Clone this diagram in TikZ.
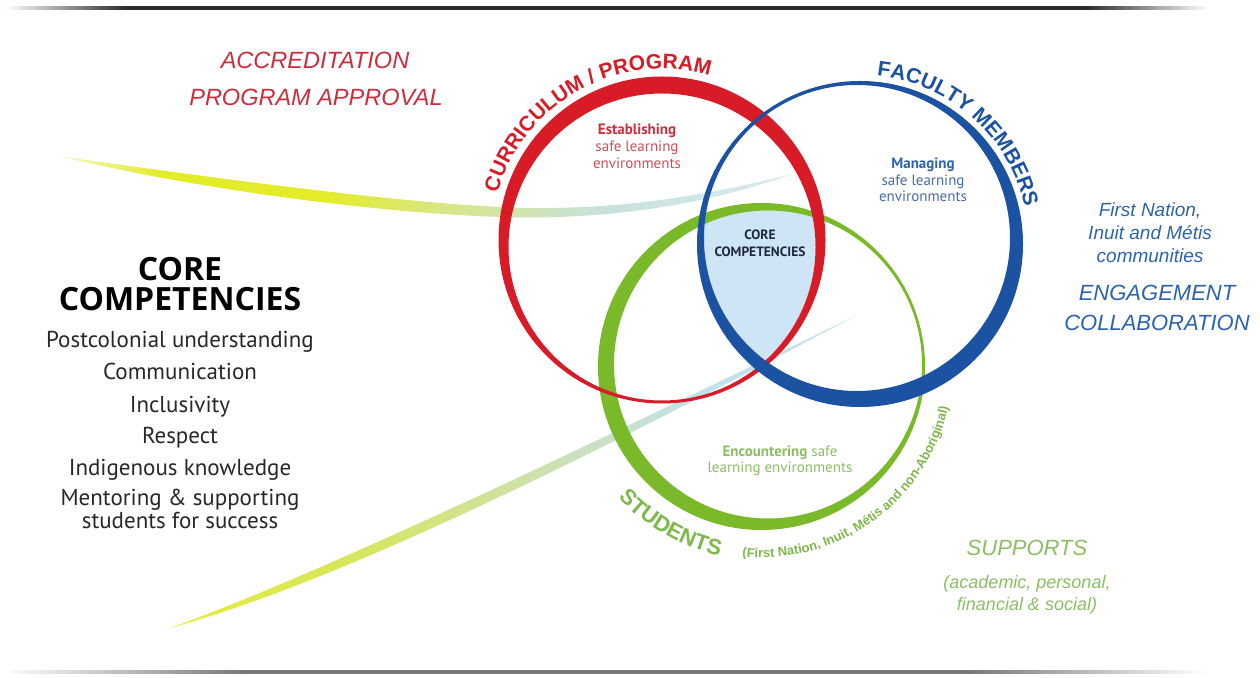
\documentclass[tikz,border=0pt]{standalone}
\usepackage{fontspec}
\setmainfont{PT Sans}
\newfontfamily\hum{PT Sans}
\newfontfamily\opn{Open Sans}
\newfontfamily\ari{Liberation Sans}
\usetikzlibrary{decorations.text}
\definecolor{cred}{RGB}{215,28,40}
\definecolor{cblue}{RGB}{28,82,162}
\definecolor{cgreen}{RGB}{122,186,42}
\definecolor{corefill}{RGB}{205,229,245}
\definecolor{tred}{RGB}{205,45,60}
\definecolor{tredl}{RGB}{205,80,90}
\definecolor{tblue}{RGB}{45,100,175}
\definecolor{tbluel}{RGB}{70,110,170}
\definecolor{tgreen}{RGB}{125,185,75}
\definecolor{tgreenl}{RGB}{140,190,100}
\definecolor{tdark}{RGB}{40,40,40}
\definecolor{tnavy}{RGB}{30,40,60}
\definecolor{sA0}{RGB}{245,248,210}
\definecolor{sA1}{RGB}{228,235,40}
\definecolor{sA2}{RGB}{215,230,140}
\definecolor{sA3}{RGB}{200,225,220}
\definecolor{sA4}{RGB}{215,235,240}
\definecolor{sB0}{RGB}{230,238,60}
\definecolor{sB1}{RGB}{215,230,90}
\definecolor{sB2}{RGB}{205,225,175}
\definecolor{sB3}{RGB}{195,225,232}
\definecolor{lnA}{RGB}{45,45,45}
\definecolor{lnB}{RGB}{120,120,120}
\pgfdeclarehorizontalshading{swupper}{100bp}{color(0bp)=(sA0); color(25bp)=(sA0); color(32bp)=(sA1); color(43bp)=(sA1); color(52bp)=(sA2); color(62bp)=(sA3); color(75bp)=(sA4); color(100bp)=(sA4)}
\pgfdeclarehorizontalshading{swlower}{100bp}{color(0bp)=(sB0); color(25bp)=(sB0); color(38bp)=(sB1); color(52bp)=(sB2); color(63bp)=(sB3); color(75bp)=(sB3); color(100bp)=(sB3)}
\pgfdeclarehorizontalshading{lineA}{100bp}{color(0bp)=(white); color(25bp)=(white); color(30bp)=(lnA); color(70bp)=(lnA); color(75bp)=(white); color(100bp)=(white)}
\pgfdeclarehorizontalshading{lineB}{100bp}{color(0bp)=(white); color(25bp)=(white); color(35bp)=(lnB); color(65bp)=(lnB); color(75bp)=(white); color(100bp)=(white)}
\tikzset{
  listtxt/.style={font=\hum\fontsize{23}{26}\selectfont, text=tdark, anchor=base, inner sep=0pt},
  headtxt/.style={font=\opn\bfseries\fontsize{32}{34}\selectfont, text=black, anchor=base, inner sep=0pt},
  redital/.style={font=\ari\itshape\fontsize{23.5}{26}\selectfont, text=tred, anchor=base, inner sep=0pt},
  blueital/.style={font=\ari\itshape\fontsize{19}{22}\selectfont, text=tblue, anchor=base, inner sep=0pt},
  bluebig/.style={font=\ari\itshape\fontsize{22}{25}\selectfont, text=tblue, anchor=base, inner sep=0pt},
  greenbig/.style={font=\ari\itshape\fontsize{22}{25}\selectfont, text=tgreenl, anchor=base, inner sep=0pt},
  greenital/.style={font=\ari\itshape\fontsize{18}{21}\selectfont, text=tgreenl, anchor=base, inner sep=0pt},
  innertxt/.style={font=\hum\fontsize{15}{17}\selectfont, anchor=base, inner sep=0pt},
  coretxt/.style={font=\hum\bfseries\fontsize{13.5}{15}\selectfont, text=tnavy, anchor=base, inner sep=0pt}
}
\begin{document}
\begin{tikzpicture}[x=1pt,y=1pt]
\useasboundingbox (0,0) rectangle (1260,677);
\fill[white] (0,0) rectangle (1260,677);
% frame lines
\shade[shading=lineA] (5,667.5) rectangle (1208,670.5);
\shade[shading=lineB] (5,3.5) rectangle (1208,6.5);
% swooshes
\shade[shading=swupper] (58,521) .. controls (200,501) and (380,476) .. (500,470) .. controls (620,464) and (720,485) .. (792,503)
   .. controls (720,477) and (620,456) .. (500,460) .. controls (380,464) and (200,487) .. (58,521) -- cycle;
\shade[shading=swlower] (170,49) .. controls (330,107) and (600,237) .. (855,361)
   .. controls (600,225) and (340,95) .. (170,49) -- cycle;
% core region
\begin{scope}
  \clip (662,430) circle (153.5);
  \clip (857,439) circle (153);
  \fill[corefill] (768,312.5) circle (154);
\end{scope}
% rings
\fill[cgreen, even odd rule] (761.5,310.5) circle (163.5) (768,312.5) circle (154);
\fill[cred, even odd rule] (662,437) circle (163.5) (662,430) circle (153.5);
\fill[cblue, even odd rule] (860,433) circle (163) (857,439) circle (153);
% curved labels
\path[decorate, decoration={text along path, text align=center,
   text={|\ari\bfseries\fontsize{21}{21}\selectfont\color{cred}|CURRICULUM / PROGRAM}}]
   (662,437) ++(176:171) arc[start angle=176, end angle=62, radius=171];
\path[decorate, decoration={text along path, text align=center,
   text={|\ari\bfseries\fontsize{21}{21}\selectfont\color{cblue}|FACULTY MEMBERS}}]
   (860,433) ++(100:169) arc[start angle=100, end angle=-3, radius=169];
\path[decorate, decoration={text along path, text align=center,
   text={|\ari\bfseries\fontsize{22}{22}\selectfont\color{tgreen}|STUDENTS}}]
   (761.5,310.5) ++(214:194) arc[start angle=214, end angle=266, radius=194];
\path[decorate, decoration={text along path, text align=center,
   text={|\ari\bfseries\fontsize{13}{13}\selectfont\color{tgreen}|(First Nation, Inuit, Métis and non-Aboriginal)}}]
   (761.5,310.5) ++(248:191) arc[start angle=248, end angle=364, radius=191];
% inner texts
\node[innertxt, text=tred] (est1) at (637,542) {\bfseries Establishing};
\node[innertxt, text=tredl] (est2) at (637,525) {safe learning};
\node[innertxt, text=tredl] (est3) at (637,508) {environments};
\node[innertxt, text=tblue] (man1) at (923,508) {\bfseries Managing};
\node[innertxt, text=tbluel] (man2) at (923,491) {safe learning};
\node[innertxt, text=tbluel] (man3) at (923,475) {environments};
\node[innertxt, text=tgreenl] (enc1) at (780,220) {{\bfseries Encountering} safe};
\node[innertxt, text=tgreenl] (enc2) at (780,204) {learning environments};
\node[coretxt] (core1) at (760,437) {CORE};
\node[coretxt] (core2) at (760,420) {COMPETENCIES};
% left panel
\node[redital] (acc1) at (315,608) {ACCREDITATION};
\node[redital] (acc2) at (316,571) {PROGRAM APPROVAL};
\node[headtxt] (h1) at (180,396) {CORE};
\node[headtxt] (h2) at (180,366) {COMPETENCIES};
\node[listtxt] (l1) at (180,329) {Postcolonial understanding};
\node[listtxt] (l2) at (180,297) {Communication};
\node[listtxt] (l3) at (180,264) {Inclusivity};
\node[listtxt] (l4) at (180,233) {Respect};
\node[listtxt] (l5) at (180,201) {Indigenous knowledge};
\node[listtxt] (l6) at (180,171) {Mentoring \& supporting};
\node[listtxt] (l7) at (180,148) {students for success};
% right panel
\node[blueital] (fn1) at (1150,460) {First Nation,};
\node[blueital] (fn2) at (1150,437) {Inuit and Métis};
\node[blueital] (fn3) at (1150,414) {communities};
\node[bluebig] (eng) at (1157,376) {ENGAGEMENT};
\node[bluebig] (col) at (1157,346) {COLLABORATION};
\node[greenbig] (sup) at (1027,121) {SUPPORTS};
\node[greenital] (sup2) at (1027,88) {(academic, personal,};
\node[greenital] (sup3) at (1027,66) {financial \& social)};
\end{tikzpicture}
\end{document}
